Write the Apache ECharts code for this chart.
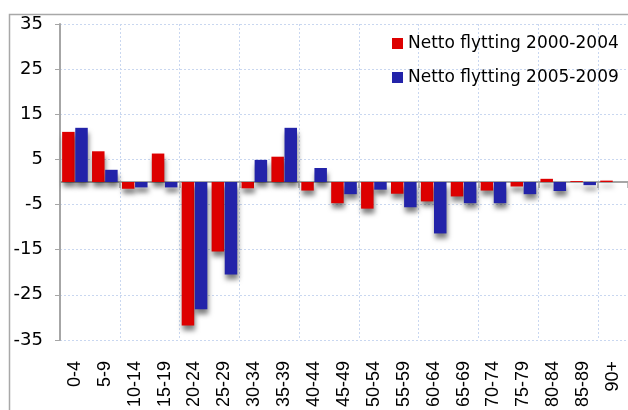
<!DOCTYPE html>
<html>
<head>
<meta charset="utf-8">
<script src="https://cdn.jsdelivr.net/npm/echarts@6/dist/echarts.min.js"></script>
<style>
html,body{margin:0;padding:0;background:#fff;}
#chart{width:628px;height:410px;}
</style>
</head>
<body>
<div id="chart"></div>
<script>
const categories = ['0-4','5-9','10-14','15-19','20-24','25-29','30-34','35-39','40-44','45-49','50-54','55-59','60-64','65-69','70-74','75-79','80-84','85-89','90+'];
const series2000 = [11.1, 6.8, -1.5, 6.3, -31.8, -15.4, -1.4, 5.6, -1.9, -4.7, -5.9, -2.6, -4.3, -3.2, -1.9, -1.0, 0.7, 0.2, 0.3];
const series2005 = [12.0, 2.7, -1.2, -1.2, -28.2, -20.5, 4.9, 12.0, 3.1, -2.7, -1.7, -5.6, -11.4, -4.7, -4.7, -2.7, -2.0, -0.7, 0];
const seriesNames = ['Netto flytting 2000-2004', 'Netto flytting 2005-2009'];
const yMin = -35, yMax = 35, yStep = 10;

const FONT = 'Liberation Sans, Arial, sans-serif';
const WIDE = 'DejaVu Sans, sans-serif';
const chart = echarts.init(document.getElementById('chart'), null, {renderer: 'canvas'});
const shadow = {shadowColor: 'rgba(0,0,0,0.5)', shadowBlur: 5, shadowOffsetX: 1, shadowOffsetY: 5};
chart.setOption({
  animation: false,
  backgroundColor: '#fff',
  graphic: [{
    type: 'rect', left: 7, top: 12, z: -10, silent: true,
    shape: {x: 0, y: 0, width: 700, height: 500},
    style: {fill: 'none', stroke: '#a8a8a8', lineWidth: 1.5}
  }],
  grid: {left: 60, top: 24, right: -2, bottom: 70, containLabel: false},
  legend: {
    orient: 'vertical', left: 392, top: 35, itemWidth: 11, itemHeight: 11, itemGap: 17,
    icon: 'rect', padding: 0,
    textStyle: {fontFamily: WIDE, fontSize: 17, lineHeight: 17, color: '#000'},
    data: seriesNames
  },
  xAxis: [{
    type: 'category', data: categories, position: 'bottom',
    axisLine: {onZero: true, lineStyle: {color: '#a6a6a6', width: 2}},
    axisTick: {show: true, length: 6, lineStyle: {color: '#a6a6a6', width: 1.5}},
    axisLabel: {show: false},
    splitLine: {show: true, lineStyle: {color: '#c9d7f0', type: [2, 2], width: 1}}
  }, {
    type: 'category', data: categories, position: 'bottom',
    axisLine: {show: false, onZero: false},
    axisTick: {show: false},
    splitLine: {show: false},
    axisLabel: {show: true, rotate: 90, margin: 21, interval: 0, fontFamily: FONT, fontSize: 18, color: '#000'}
  }],
  yAxis: {
    type: 'value', min: yMin, max: yMax, interval: yStep,
    axisLine: {show: true, lineStyle: {color: '#a6a6a6', width: 2}},
    axisTick: {show: true, length: 5, lineStyle: {color: '#a6a6a6', width: 1}},
    axisLabel: {margin: 17, fontFamily: WIDE, fontSize: 18, color: '#000'},
    splitLine: {show: true, lineStyle: {color: '#c9d7f0', type: [2, 2], width: 1}}
  },
  series: [{
    name: seriesNames[0], type: 'bar', data: series2000, xAxisIndex: 0,
    barWidth: 12.5, barGap: '5%',
    itemStyle: Object.assign({color: '#dd0000'}, shadow)
  }, {
    name: seriesNames[1], type: 'bar', data: series2005, xAxisIndex: 0,
    barWidth: 12.5, barGap: '5%',
    itemStyle: Object.assign({color: '#2323a9'}, shadow)
  }]
});
</script>
</body>
</html>
